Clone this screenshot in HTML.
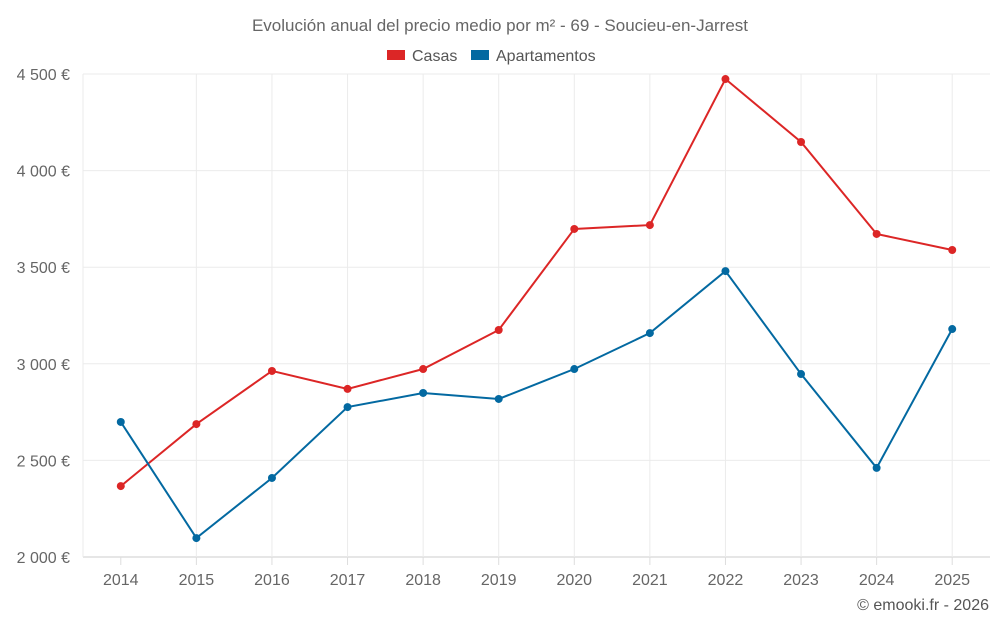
<!DOCTYPE html>
<html><head><meta charset="utf-8"><style>
body{margin:0;background:#fff;font-family:"Liberation Sans",sans-serif;}
svg text{font-family:"Liberation Sans",sans-serif;}
</style></head><body>
<svg id="chart" width="1000" height="625" xmlns="http://www.w3.org/2000/svg">
<text x="500" y="31" text-anchor="middle" font-size="17" fill="#666">Evolución anual del precio medio por m² - 69 - Soucieu-en-Jarrest</text>
<g>
<g><rect x="387" y="50" width="18" height="10" fill="#dc2626"/><text x="412" y="61" font-size="16" fill="#555">Casas</text></g>
<g><rect x="471" y="50" width="18" height="10" fill="#0369a1"/><text x="496" y="61" font-size="16" fill="#555">Apartamentos</text></g>
</g>
<g id="grid"></g><g id="axes"></g><g id="series"></g>
<text x="989" y="610" text-anchor="end" font-size="16" fill="#555">© emooki.fr - 2026</text>
</svg>
<script>
const years=[2014,2015,2016,2017,2018,2019,2020,2021,2022,2023,2024,2025];
const casas=[2367,2688,2963,2870,2973,3175,3698,3718,4474,4148,3672,3589];
const apartamentos=[2699,2098,2409,2776,2849,2818,2973,3159,3480,2947,2461,3180];
const yTicks=[2000,2500,3000,3500,4000,4500];
const yLabels=["2 000 €","2 500 €","3 000 €","3 500 €","4 000 €","4 500 €"];
const L=83,R=990,T=74,B=557,NS="http://www.w3.org/2000/svg";
const step=(R-L)/years.length;
const x=i=>L+step*(i+0.5);
const y=v=>B-(v-2000)/2500*(B-T);
function mk(t,a,p){const e=document.createElementNS(NS,t);for(const k in a)e.setAttribute(k,a[k]);p.appendChild(e);return e;}
const grid=document.getElementById('grid'),axes=document.getElementById('axes'),ser=document.getElementById('series');
yTicks.forEach((v,i)=>{
 const l=mk('line',{x1:L,x2:R,y1:y(v),y2:y(v),stroke:i==0?'#ccc':'#ebebeb'},grid);
 
 
 const t=mk('text',{x:70,y:y(v)+6,'text-anchor':'end','font-size':16,fill:'#666'},axes);t.textContent=yLabels[i];
 
 
});
const le=mk('line',{x1:L,x2:L,y1:T,y2:B,stroke:'#ebebeb'},grid);


years.forEach((yr,i)=>{
 if(i>0){const l=mk('line',{x1:x(i),x2:x(i),y1:T,y2:B,stroke:'#ebebeb'},grid);
 
 }
 const tk=mk('line',{x1:x(i),x2:x(i),y1:B,y2:B+8,stroke:'#ddd'},grid);
 
 
 const t=mk('text',{x:x(i),y:585,'text-anchor':'middle','font-size':16,fill:'#666'},axes);t.textContent=yr;
 
 
});
[[casas,'#dc2626','casas'],[apartamentos,'#0369a1','apartamentos']].forEach(([d,c,n])=>{
 const p=mk('polyline',{points:d.map((v,i)=>x(i)+','+y(v)).join(' '),fill:'none',stroke:c,'stroke-width':2},ser);
 
 
 d.forEach((v,i)=>{const m=mk('circle',{cx:x(i),cy:y(v),r:4,fill:c},ser);
  
  });
});
</script>
</body></html>
